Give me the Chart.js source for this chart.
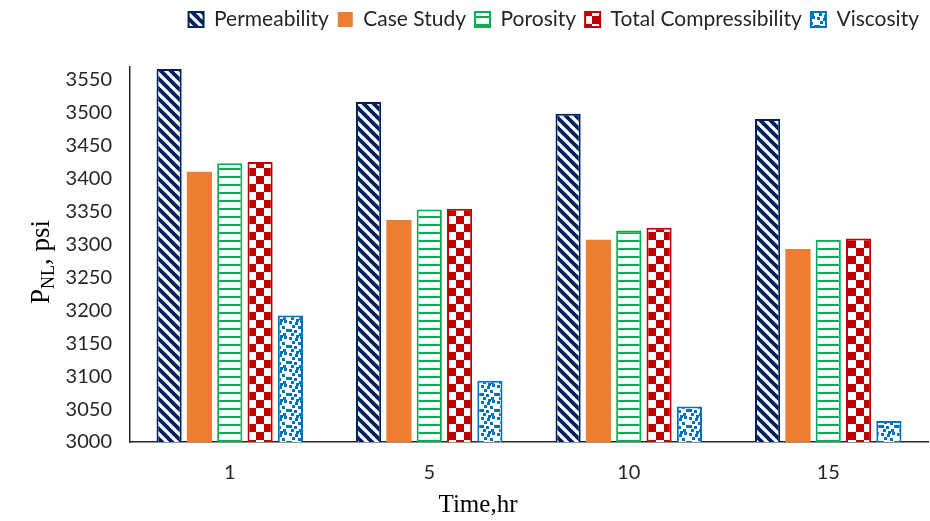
<!DOCTYPE html>
<html>
<head>
<meta charset="utf-8">
<script src="https://cdn.jsdelivr.net/npm/chart.js@4.4.1/dist/chart.umd.min.js"></script>
<style>
  html, body { margin: 0; padding: 0; background: #ffffff; }
  #wrap { width: 930px; height: 521px; }
</style>
</head>
<body>
<div id="wrap"><canvas id="c" width="930" height="521"></canvas></div>
<script>
// Time steps (hr) and the non-linear pressure P_NL (psi) for each sensitivity case
const categories = ['1', '5', '10', '15'];
const permeability = [3566, 3516, 3498, 3490];
const caseStudy = [3410, 3337, 3307, 3293];
const porosity = [3423, 3353, 3321, 3307];
const totalCompressibility = [3425, 3354, 3325, 3309];
const viscosity = [3192, 3093, 3054, 3032];
const yMin = 3000;
const yMax = 3570;
const yStep = 50;

const NAVY = '#002060';
const ORANGE = '#ED7D31';
const GREEN = '#00B050';
const RED = '#C00000';
const BLUE = '#0070C0';

const canvas = document.getElementById('c');
const mainCtx = canvas.getContext('2d');

// Build a repeating fill from a small tile
function tile(w, h, paint) {
  const t = document.createElement('canvas');
  t.width = w; t.height = h;
  const g = t.getContext('2d');
  g.fillStyle = '#ffffff';
  g.fillRect(0, 0, w, h);
  paint(g);
  return mainCtx.createPattern(t, 'repeat');
}

// wide downward diagonal
const diagFill = tile(10, 10, g => {
  g.strokeStyle = NAVY;
  g.lineWidth = 3.8;
  for (let k = -1; k <= 1; k++) {
    g.beginPath();
    g.moveTo(k * 10 - 5, -5);
    g.lineTo(k * 10 + 15, 15);
    g.stroke();
  }
});

// horizontal lines
const horizFill = tile(8, 8, g => {
  g.fillStyle = GREEN;
  g.fillRect(0, 0, 8, 2);
});

// large checkerboard
const checkFill = tile(16, 16, g => {
  g.fillStyle = RED;
  g.fillRect(0, 0, 8, 8);
  g.fillRect(8, 8, 8, 8);
});

// small confetti
const confettiFill = tile(16, 16, g => {
  g.fillStyle = BLUE;
  const dots = [[1,1],[7,2],[12,0],[4,5],[10,6],[14,9],[1,9],[6,10],[11,13],[3,13],[8,15]];
  dots.forEach(([x, y]) => {
    g.fillRect(x, y, 3, 3);
    if (x + 3 > 16) g.fillRect(x - 16, y, 3, 3);
    if (y + 3 > 16) g.fillRect(x, y - 16, 3, 3);
  });
});

// Axis titles drawn in a serif face, the y title with a subscript
const axisTitles = {
  id: 'axisTitles',
  afterDraw(chart) {
    const ctx = chart.ctx;
    ctx.save();
    ctx.fillStyle = '#000000';
    ctx.font = '25px "Liberation Serif"';
    ctx.textAlign = 'center';
    ctx.textBaseline = 'middle';
    ctx.fillText('Time,hr', 478, 505);

    const big = '27px "Liberation Serif"';
    const small = '18px "Liberation Serif"';
    ctx.font = big; const wP = ctx.measureText('P').width;
    ctx.font = small; const wNL = ctx.measureText('NL').width;
    ctx.font = big; const wRest = ctx.measureText(', psi').width;
    const total = wP + wNL + wRest;
    ctx.translate(41, 262);
    ctx.rotate(-Math.PI / 2);
    ctx.textAlign = 'left';
    ctx.textBaseline = 'alphabetic';
    let x = -total / 2;
    ctx.font = big; ctx.fillText('P', x, 8); x += wP;
    ctx.font = small; ctx.fillText('NL', x, 13); x += wNL;
    ctx.font = big; ctx.fillText(', psi', x, 8);
    ctx.restore();
  }
};

const barOpts = { borderWidth: 2, borderSkipped: false, categoryPercentage: 0.76, barPercentage: 0.83 };
const tickFont = { family: 'Lato', size: 20 };

new Chart(mainCtx, {
  type: 'bar',
  data: {
    labels: categories,
    datasets: [
      { label: 'Permeability', data: permeability, backgroundColor: diagFill, borderColor: NAVY, ...barOpts },
      { label: 'Case Study', data: caseStudy, backgroundColor: ORANGE, borderColor: ORANGE, ...barOpts, borderWidth: 0 },
      { label: 'Porosity', data: porosity, backgroundColor: horizFill, borderColor: GREEN, ...barOpts },
      { label: 'Total Compressibility', data: totalCompressibility, backgroundColor: checkFill, borderColor: RED, ...barOpts },
      { label: 'Viscosity', data: viscosity, backgroundColor: confettiFill, borderColor: BLUE, ...barOpts }
    ]
  },
  options: {
    responsive: false,
    animation: false,
    devicePixelRatio: 1,
    layout: { padding: { left: 0, right: 2, top: 0, bottom: 0 } },
    plugins: {
      legend: {
        position: 'top',
        align: 'end',
        labels: {
          font: { family: 'Lato', size: 21 },
          color: '#262626',
          boxWidth: 15,
          boxHeight: 15,
          padding: 9
        }
      },
      // empty spacer between the legend and the plot area
      title: { display: true, text: '', weight: 0, padding: { top: 0, bottom: 12 }, font: { size: 12 } },
      tooltip: { enabled: false }
    },
    scales: {
      x: {
        grid: { display: false },
        border: { display: true, color: '#262626', width: 1.5 },
        ticks: { font: tickFont, color: '#262626', padding: 11 },
        afterFit(s) { s.height = 79; }
      },
      y: {
        min: yMin,
        max: yMax,
        grid: { display: false },
        border: { display: true, color: '#262626', width: 1.5 },
        ticks: {
          stepSize: yStep,
          includeBounds: false,
          font: tickFont,
          color: '#262626',
          padding: 10,
          callback: v => String(v)
        },
        afterFit(s) { s.width = 130; }
      }
    }
  },
  plugins: [axisTitles]
});
</script>
</body>
</html>
